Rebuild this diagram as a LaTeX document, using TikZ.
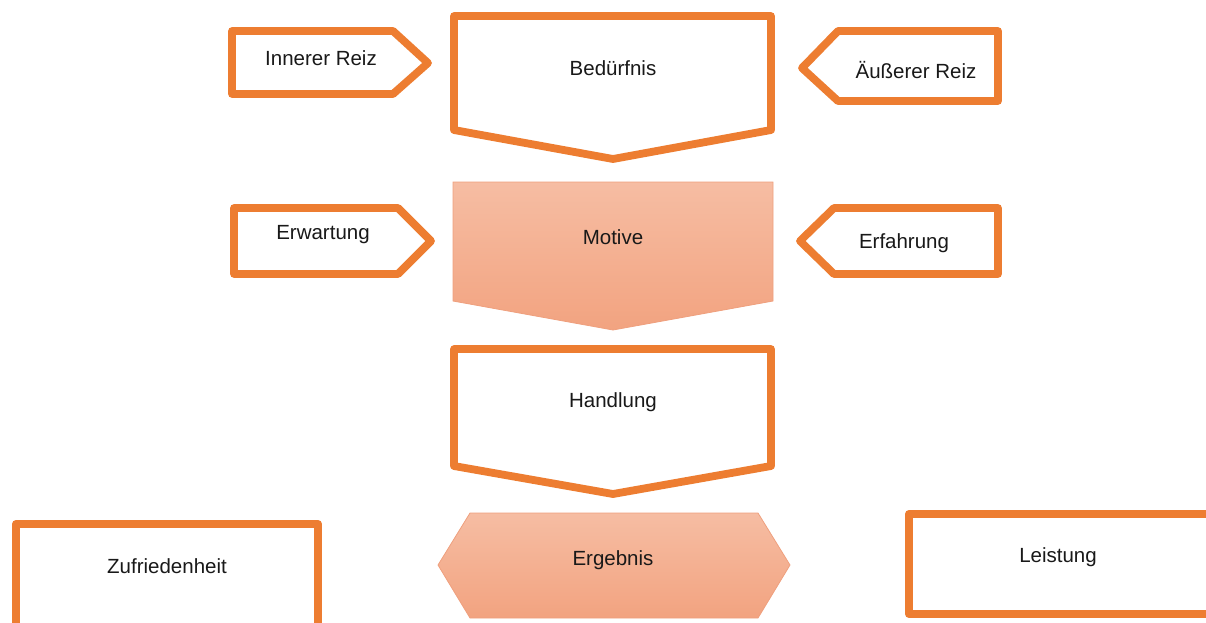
\documentclass[tikz,border=0pt]{standalone}
\usepackage{fontspec}
\setmainfont{Liberation Sans}
\definecolor{orng}{HTML}{ED7D31}
\definecolor{ftop}{HTML}{F6BDA3}
\definecolor{fbot}{HTML}{F2A380}
\definecolor{fedge}{HTML}{EFA07E}
\tikzset{
  obox/.style={draw=orng, line width=7.8pt, line join=round, fill=white},
  fbox/.style={draw=fedge, line width=0.8pt, top color=ftop, bottom color=fbot},
  lbl/.style={font=\fontsize{20.5}{23}\selectfont, text=black!90, inner sep=0pt}
}
\begin{document}
\begin{tikzpicture}[x=1pt,y=-1pt]
\useasboundingbox (0,0) rectangle (1206,622);
% Innerer Reiz
\draw[obox] (232,31) -- (393,31) -- (428,63) -- (393,94) -- (232,94) -- cycle;
\node[lbl] (inner) at (321,58) {Innerer Reiz};
% Bedürfnis
\draw[obox] (454,16) -- (771,16) -- (771,130) -- (613,159) -- (454,130) -- cycle;
\node[lbl] (bed) at (613,68) {Bedürfnis};
% Äußerer Reiz
\draw[obox] (838,31) -- (998,31) -- (998,101) -- (838,101) -- (802,68) -- cycle;
\node[lbl] (aeuss) at (916,70) {Äußerer Reiz};
% Motive
\draw[fbox] (453,182) -- (773,182) -- (773,301) -- (613,330) -- (453,301) -- cycle;
\node[lbl] (mot) at (613,237) {Motive};
% Erwartung
\draw[obox] (234,208) -- (398,208) -- (431,241) -- (398,274) -- (234,274) -- cycle;
\node[lbl] (erw) at (323,235) {Erwartung};
% Erfahrung
\draw[obox] (834,208) -- (998,208) -- (998,274) -- (834,274) -- (800,241) -- cycle;
\node[lbl] (erf) at (904,243) {Erfahrung};
% Handlung
\draw[obox] (454,349) -- (771,349) -- (771,466) -- (613,494) -- (454,466) -- cycle;
\node[lbl] (hand) at (613,402) {Handlung};
% Ergebnis
\draw[fbox] (470,513) -- (758,513) -- (790,565) -- (758,618) -- (470,618) -- (438,565) -- cycle;
\node[lbl] (erg) at (613,560) {Ergebnis};
% Zufriedenheit
\draw[obox] (16,640) -- (16,524) -- (318,524) -- (318,640);
\node[lbl] (zuf) at (167,566) {Zufriedenheit};
% Leistung
\draw[obox] (1220,514) -- (909,514) -- (909,614) -- (1220,614);
\node[lbl] (leis) at (1058,557) {Leistung};
\end{tikzpicture}
\end{document}
